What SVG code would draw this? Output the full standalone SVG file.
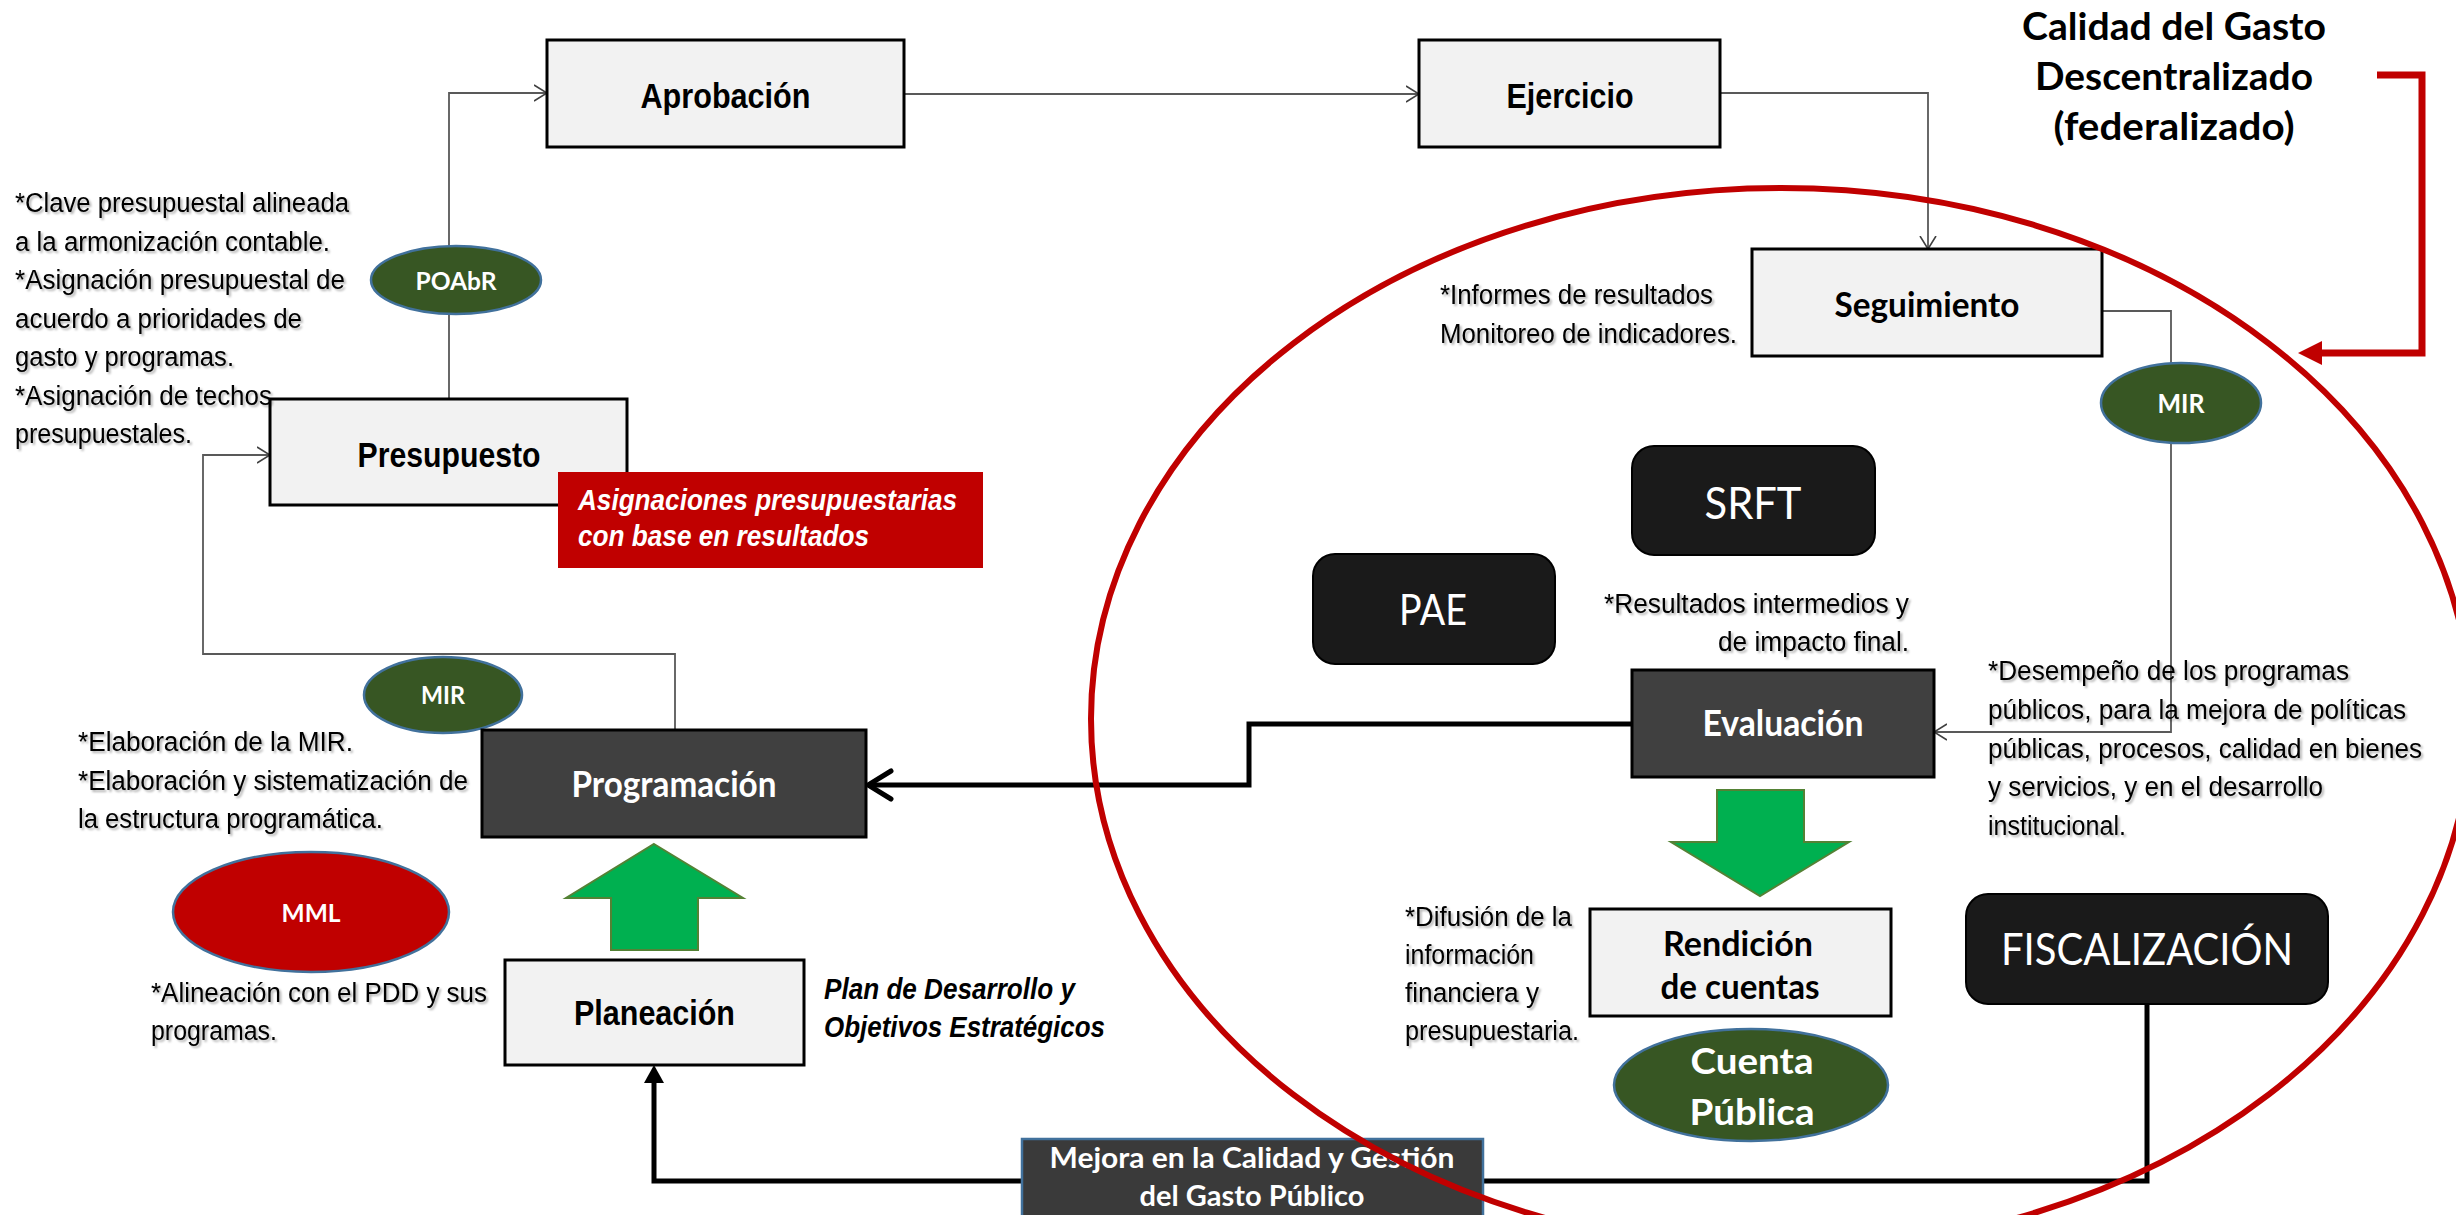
<svg xmlns="http://www.w3.org/2000/svg" width="2456" height="1215" viewBox="0 0 2456 1215">
<style>
.box{fill:#F2F2F2;stroke:#000;stroke-width:3}
.dbox{fill:#404040;stroke:#000;stroke-width:3}
.bbox{fill:#1A1A1A;stroke:#000;stroke-width:2}
.gell{fill:#375623;stroke:#41719C;stroke-width:2.5}
.lbl{font-family:"Liberation Sans Narrow","Liberation Sans",Arial,sans-serif;font-weight:bold;font-size:35px;fill:#000;text-anchor:middle}
.cal{font-family:Lato,"Open Sans",sans-serif;font-weight:bold;fill:#fff;text-anchor:middle}
.calb{font-family:Lato,"Open Sans",sans-serif;font-weight:bold;fill:#000;text-anchor:middle}
.calr{font-family:Lato,"Open Sans",sans-serif;font-weight:normal;fill:#fff;text-anchor:middle}
.note{font-family:"Liberation Sans Narrow","Liberation Sans",Arial,sans-serif;font-size:27px;fill:#000}
.bi{font-family:"Liberation Sans Narrow","Liberation Sans",Arial,sans-serif;font-weight:bold;font-style:italic;font-size:29px}
.conn{fill:none;stroke:#595959;stroke-width:1.8}
.thick{fill:none;stroke:#000;stroke-width:5}
</style>
<defs>
<filter id="sh" x="-5%" y="-5%" width="110%" height="120%">
<feDropShadow dx="2" dy="2" stdDeviation="1.2" flood-color="#000" flood-opacity="0.3"/>
</filter>
<marker id="aThin" viewBox="0 0 14 18" refX="13" refY="9" markerWidth="14" markerHeight="18" markerUnits="userSpaceOnUse" orient="auto">
<path d="M0,1 L13,9 L0,17" fill="none" stroke="#404040" stroke-width="1.6"/>
</marker>
<marker id="aThick" viewBox="0 0 30 34" refX="27" refY="17" markerWidth="30" markerHeight="34" markerUnits="userSpaceOnUse" orient="auto">
<path d="M4,3 L27,17 L4,31" fill="none" stroke="#000" stroke-width="5" stroke-linecap="round" stroke-linejoin="miter"/>
</marker>
<marker id="aFill" viewBox="0 0 18 20" refX="8" refY="10" markerWidth="18" markerHeight="20" markerUnits="userSpaceOnUse" orient="auto">
<path d="M0,0 L18,10 L0,20 Z" fill="#000"/>
</marker>
<marker id="aRed" viewBox="0 0 24 24" refX="4" refY="12" markerWidth="24" markerHeight="24" markerUnits="userSpaceOnUse" orient="auto">
<path d="M0,0 L24,12 L0,24 Z" fill="#C00000"/>
</marker>
</defs>
<rect width="2456" height="1215" fill="#fff"/>

<g id="connectors">
<path class="conn" d="M449,399 L449,93 L547,93" marker-end="url(#aThin)"/>
<path class="conn" d="M904,94 L1419,94" marker-end="url(#aThin)" stroke-width="2.2"/>
<path class="conn" d="M1720,93 L1928,93 L1928,249" marker-end="url(#aThin)"/>
<path class="conn" d="M2102,311 L2171,311 L2171,732 L1934,732" marker-end="url(#aThin)"/>
<path class="conn" d="M675,730 L675,654 L203,654 L203,455 L270,455" marker-end="url(#aThin)"/>
<path class="thick" d="M1632,724 L1249,724 L1249,785 L868,785" marker-end="url(#aThick)"/>
<path class="thick" d="M2147,1004 L2147,1181 L654,1181 L654,1075" marker-end="url(#aFill)"/>
<path d="M2377,75 L2422,75 L2422,353 L2318,353" fill="none" stroke="#C00000" stroke-width="7" marker-end="url(#aRed)"/>
</g>

<g id="aprobacion">
<rect class="box" x="547" y="40" width="357" height="107"/>
<text class="lbl" x="725.5" y="108" textLength="170" lengthAdjust="spacingAndGlyphs">Aprobación</text>
</g>
<g id="ejercicio">
<rect class="box" x="1419" y="40" width="301" height="107"/>
<text class="lbl" x="1570" y="108" textLength="127" lengthAdjust="spacingAndGlyphs">Ejercicio</text>
</g>
<g id="seguimiento">
<rect class="box" x="1752" y="249" width="350" height="107"/>
<text class="calb" x="1927" y="317" font-size="35" textLength="185" lengthAdjust="spacingAndGlyphs">Seguimiento</text>
</g>
<g id="presupuesto">
<rect class="box" x="270" y="399" width="357" height="106"/>
<text class="lbl" x="449" y="467" textLength="183" lengthAdjust="spacingAndGlyphs">Presupuesto</text>
</g>
<g id="asignaciones">
<rect x="558" y="472" width="425" height="96" fill="#C00000"/>
<text class="bi" x="578" y="510" fill="#fff" textLength="379" lengthAdjust="spacingAndGlyphs">Asignaciones presupuestarias</text>
<text class="bi" x="578" y="546" fill="#fff" textLength="291" lengthAdjust="spacingAndGlyphs">con base en resultados</text>
</g>
<g id="poabr">
<ellipse class="gell" cx="456" cy="280" rx="85" ry="34"/>
<text class="cal" x="456" y="290" font-size="25" textLength="81" lengthAdjust="spacingAndGlyphs">POAbR</text>
</g>
<g id="mir-izq">
<ellipse class="gell" cx="443" cy="695" rx="79" ry="38"/>
<text class="cal" x="443" y="704" font-size="25" textLength="44" lengthAdjust="spacingAndGlyphs">MIR</text>
</g>
<g id="mir-der">
<ellipse class="gell" cx="2181" cy="403" rx="80" ry="40"/>
<text class="cal" x="2181" y="413" font-size="26" textLength="47" lengthAdjust="spacingAndGlyphs">MIR</text>
</g>
<g id="programacion">
<rect class="dbox" x="482" y="730" width="384" height="107"/>
<text class="cal" x="674" y="797" font-size="36" textLength="205" lengthAdjust="spacingAndGlyphs">Programación</text>
</g>
<g id="mml">
<ellipse cx="311" cy="912" rx="138" ry="60" fill="#C00000" stroke="#41719C" stroke-width="2.5"/>
<text class="cal" x="311" y="922" font-size="25" textLength="59" lengthAdjust="spacingAndGlyphs">MML</text>
</g>
<g id="flecha-arriba">
<polygon points="654,844 743,898 698,898 698,950 611,950 611,898 566,898" fill="#00B050" stroke="#548235" stroke-width="2"/>
</g>
<g id="planeacion">
<rect class="box" x="505" y="960" width="299" height="105"/>
<text class="lbl" x="654.5" y="1025" textLength="161" lengthAdjust="spacingAndGlyphs">Planeación</text>
</g>
<g id="plan-desarrollo">
<text class="bi" x="824" y="999" fill="#000" textLength="251" lengthAdjust="spacingAndGlyphs">Plan de Desarrollo y</text>
<text class="bi" x="824" y="1037" fill="#000" textLength="281" lengthAdjust="spacingAndGlyphs">Objetivos Estratégicos</text>
</g>
<g id="srft">
<rect class="bbox" x="1632" y="446" width="243" height="109" rx="22"/>
<text class="calr" x="1753" y="519" font-size="44" textLength="97" lengthAdjust="spacingAndGlyphs">SRFT</text>
</g>
<g id="pae">
<rect class="bbox" x="1313" y="554" width="242" height="110" rx="22"/>
<text class="calr" x="1433" y="625" font-size="42" textLength="68" lengthAdjust="spacingAndGlyphs">PAE</text>
</g>
<g id="evaluacion">
<rect class="dbox" x="1632" y="670" width="302" height="107"/>
<text class="cal" x="1783" y="736" font-size="36" textLength="161" lengthAdjust="spacingAndGlyphs">Evaluación</text>
</g>
<g id="flecha-abajo">
<polygon points="1717,790 1804,790 1804,842 1849,842 1760,896 1671,842 1717,842" fill="#00B050" stroke="#548235" stroke-width="2"/>
</g>
<g id="rendicion">
<rect class="box" x="1590" y="909" width="301" height="107"/>
<text class="calb" x="1738" y="956" font-size="34" textLength="150" lengthAdjust="spacingAndGlyphs">Rendición</text>
<text class="calb" x="1740" y="999" font-size="34" textLength="159" lengthAdjust="spacingAndGlyphs">de cuentas</text>
</g>
<g id="cuenta-publica">
<ellipse class="gell" cx="1751" cy="1085" rx="137" ry="56"/>
<text class="cal" x="1752" y="1074" font-size="37" textLength="123" lengthAdjust="spacingAndGlyphs">Cuenta</text>
<text class="cal" x="1752" y="1125" font-size="37" textLength="125" lengthAdjust="spacingAndGlyphs">Pública</text>
</g>
<g id="fiscalizacion">
<rect class="bbox" x="1966" y="894" width="362" height="110" rx="22"/>
<text class="calr" x="2147" y="965" font-size="44" textLength="292" lengthAdjust="spacingAndGlyphs">FISCALIZACIÓN</text>
</g>
<g id="mejora">
<rect x="1022" y="1139" width="461" height="84" fill="#3A3A3A" stroke="#41719C" stroke-width="2.5"/>
<text class="cal" x="1252" y="1168" font-size="28" textLength="405" lengthAdjust="spacingAndGlyphs">Mejora en la Calidad y Gestión</text>
<text class="cal" x="1252" y="1206" font-size="28" textLength="225" lengthAdjust="spacingAndGlyphs">del Gasto Público</text>
</g>
<g id="titulo">
<text class="calb" x="2174" y="40" font-size="38" textLength="304" lengthAdjust="spacingAndGlyphs">Calidad del Gasto</text>
<text class="calb" x="2174" y="90" font-size="38" textLength="278" lengthAdjust="spacingAndGlyphs">Descentralizado</text>
<text class="calb" x="2174" y="140" font-size="38" textLength="241" lengthAdjust="spacingAndGlyphs">(federalizado)</text>
</g>

<g id="notas" filter="url(#sh)">
<text class="note" x="15" y="212" textLength="334" lengthAdjust="spacingAndGlyphs">*Clave presupuestal alineada</text>
<text class="note" x="15" y="251" textLength="315" lengthAdjust="spacingAndGlyphs">a la armonización contable.</text>
<text class="note" x="15" y="289" textLength="330" lengthAdjust="spacingAndGlyphs">*Asignación presupuestal de</text>
<text class="note" x="15" y="328" textLength="287" lengthAdjust="spacingAndGlyphs">acuerdo a prioridades de</text>
<text class="note" x="15" y="366" textLength="219" lengthAdjust="spacingAndGlyphs">gasto y programas.</text>
<text class="note" x="15" y="405" textLength="257" lengthAdjust="spacingAndGlyphs">*Asignación de techos</text>
<text class="note" x="15" y="443" textLength="177" lengthAdjust="spacingAndGlyphs">presupuestales.</text>

<text class="note" x="78" y="751" textLength="275" lengthAdjust="spacingAndGlyphs">*Elaboración de la MIR.</text>
<text class="note" x="78" y="790" textLength="390" lengthAdjust="spacingAndGlyphs">*Elaboración y sistematización de</text>
<text class="note" x="78" y="828" textLength="305" lengthAdjust="spacingAndGlyphs">la estructura programática.</text>

<text class="note" x="151" y="1002" textLength="336" lengthAdjust="spacingAndGlyphs">*Alineación con el PDD y sus</text>
<text class="note" x="151" y="1040" textLength="126" lengthAdjust="spacingAndGlyphs">programas.</text>

<text class="note" x="1440" y="304" textLength="273" lengthAdjust="spacingAndGlyphs">*Informes de resultados</text>
<text class="note" x="1440" y="343" textLength="297" lengthAdjust="spacingAndGlyphs">Monitoreo de indicadores.</text>

<text class="note" x="1604" y="613" textLength="305" lengthAdjust="spacingAndGlyphs">*Resultados intermedios y</text>
<text class="note" x="1718" y="651" textLength="191" lengthAdjust="spacingAndGlyphs">de impacto final.</text>

<text class="note" x="1988" y="680" textLength="361" lengthAdjust="spacingAndGlyphs">*Desempeño de los programas</text>
<text class="note" x="1988" y="719" textLength="418" lengthAdjust="spacingAndGlyphs">públicos, para la mejora de políticas</text>
<text class="note" x="1988" y="758" textLength="434" lengthAdjust="spacingAndGlyphs">públicas, procesos, calidad en bienes</text>
<text class="note" x="1988" y="796" textLength="335" lengthAdjust="spacingAndGlyphs">y servicios, y en el desarrollo</text>
<text class="note" x="1988" y="835" textLength="138" lengthAdjust="spacingAndGlyphs">institucional.</text>

<text class="note" x="1405" y="926" textLength="167" lengthAdjust="spacingAndGlyphs">*Difusión de la</text>
<text class="note" x="1405" y="964" textLength="129" lengthAdjust="spacingAndGlyphs">información</text>
<text class="note" x="1405" y="1002" textLength="134" lengthAdjust="spacingAndGlyphs">financiera y</text>
<text class="note" x="1405" y="1040" textLength="174" lengthAdjust="spacingAndGlyphs">presupuestaria.</text>
</g>

<g id="circulo-calidad">
<ellipse cx="1781" cy="719" rx="690" ry="531" fill="none" stroke="#C00000" stroke-width="6"/>
</g>
</svg>
